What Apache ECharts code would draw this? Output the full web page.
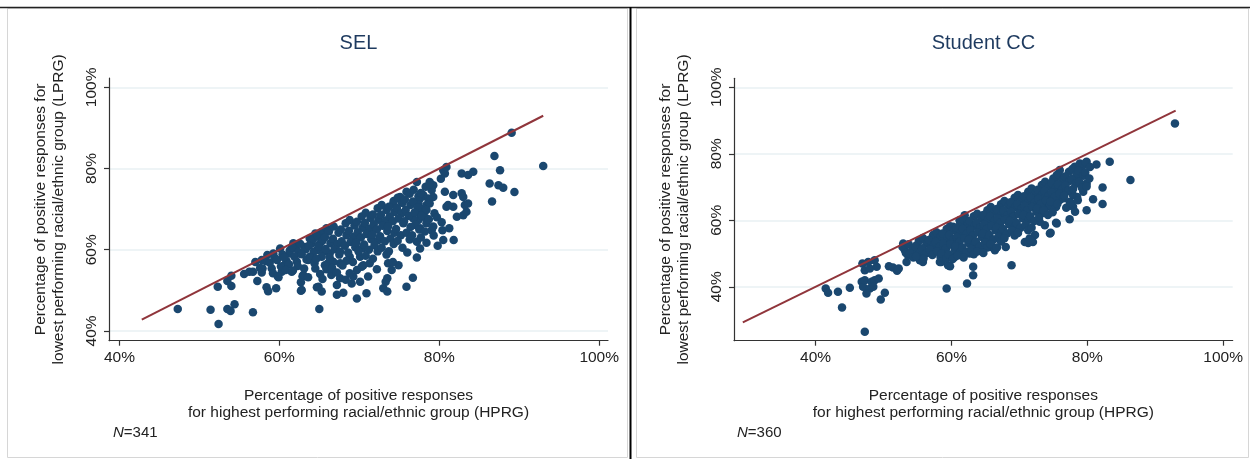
<!DOCTYPE html>
<html><head><meta charset="utf-8">
<script src="https://cdn.jsdelivr.net/npm/echarts@6/dist/echarts.min.js"></script>
<style>html,body{margin:0;padding:0;background:#fff}#c{width:1250px;height:459px}</style>
</head><body><div id="c"></div>
<script>
// ---------- data ----------
const panelTitles = ['SEL', 'Student CC'];
const sampleSizes = ['341', '360'];
const xTicks = [40, 60, 80, 100];
const yTicks = [40, 60, 80, 100];
const selRefLine = [42.8, 93.0];
const sccRefLine = [29.3, 93.0];

// SEL: individually read points [HPRG %, LPRG %]
const selPoints = [
[47.3,45.4],[51.4,45.2],[52.4,41.7],[53.5,45.4],[53.9,44.9],[54.4,46.6],[56.7,44.6],
[52.3,50.9],[53.5,52.3],[54.0,53.6],[54.0,51.1],[55.6,54.0],[56.25,54.6],[56.7,54.6],[57.25,52.3],
[57.0,57.0],[57.8,57.5],[58.5,58.7],[59.25,59.1],[60.1,60.3],
[57.9,55.4],[57.8,54.4],[59.05,55.4],[58.4,50.75],[58.6,49.8],[59.6,50.5],
[59.9,53.2],[60.3,54.6],[60.6,56.2],[60.9,57.2],
[61.75,61.6],[62.05,60.3],[61.3,59.1],[61.55,54.6],[62.7,49.9],[62.9,53.5],
[62.2,57.05],[62.6,59.1],[63.2,60.7],[63.8,62.8],[64.5,64.0],[65.3,64.4],[65.9,65.3],
[64.5,55.4],[65.1,54.0],[64.7,50.75],[65.3,49.7],[65.0,45.4],
[63.8,58.3],[64.7,59.9],[65.5,59.5],[64.05,61.6],[65.1,61.6],[66.3,59.1],[66.1,56.65],
[69.7,48.0],[70.9,49.3],[67.2,48.9],[68.0,49.4],[67.2,51.3],[67.6,53.0],[64.9,50.9],[62.8,50.1],
[73.0,50.5],[73.5,49.7],[75.9,50.9],[76.7,53.1],[77.2,58.1],[77.6,60.3],[78.4,61.7],
[76.0,59.3],[74.9,56.2],[73.6,56.65],[74.05,55.0],[73.5,53.0],[73.3,52.1],
[71.1,53.4],[70.1,52.1],[69.05,51.7],[69.25,53.4],[69.7,55.0],[68.8,54.2],
[71.3,56.65],[70.5,56.2],[70.1,58.3],[68.8,58.3],[67.6,56.65],[66.75,57.05],[65.7,56.2],[63.0,53.8],[63.6,57.5],
[80.5,62.4],[81.8,62.4],[80.4,64.8],[81.25,65.3],
[79.05,64.8],[78.4,66.5],[79.25,65.7],[77.6,65.3],[77.4,67.3],[78.2,68.0],[77.6,69.0],[76.75,67.7],[77.0,66.1],
[82.2,68.1],[83.0,68.5],[83.4,69.35],[83.2,71.0],[83.6,71.4],[82.8,73.9],[83.0,73.0],[81.75,70.6],[80.9,70.6],[81.1,71.0],[81.75,73.5],[80.7,74.3],
[82.8,78.8],[83.6,78.4],[84.25,79.2],[80.7,78.8],[80.5,79.6],[80.9,80.4],
[78.8,76.7],[79.25,75.9],[79.05,74.7],[79.25,73.0],[78.6,72.6],[78.0,73.5],[77.6,72.6],[77.4,71.4],[78.4,71.0],[78.2,70.2],[78.8,71.4],
[77.2,76.7],[75.9,74.3],[75.1,73.0],[75.3,71.8],[74.25,71.4],
[86.9,83.1],[87.6,79.6],[89.05,88.8],[93.0,80.6],[86.3,76.3],[87.4,75.9],[88.0,75.25],[89.4,74.2],[86.6,71.9]
];
// SEL: dense cloud, read region by region
const selCloud = [
[57.6,55.5],[58.3,57.2],
[58.8,56.8],[59.4,58.0],[59.2,54.2],
[59.7,57.5],[60.4,58.8],[60.2,55.9],[59.8,53.5],
[61.3,59.8],[60.6,58.1],[61.2,56.4],[60.8,55.0],
[61.6,60.7],[62.4,59.5],[61.9,58.3],[62.3,56.0],[61.7,54.9],
[62.6,61.5],[63.3,60.1],[62.8,58.9],[63.4,57.6],[63.1,55.4],[62.7,52.0],
[64.2,62.6],[63.7,61.0],[64.3,59.5],[63.9,58.0],[64.4,56.7],[63.6,53.2],
[64.8,63.4],[65.4,62.2],[64.9,60.8],[65.3,58.3],[64.6,57.7],[65.4,52.8],
[66.2,64.5],[65.7,63.1],[66.4,61.6],[65.8,60.2],[66.3,58.0],[65.9,55.2],[66.5,53.8],
[66.8,65.7],[67.4,64.2],[66.7,62.7],[67.3,61.4],[66.9,60.1],[67.5,58.8],[66.6,55.5],[67.2,54.4],
[68.3,66.5],[67.7,65.0],[68.4,63.6],[67.8,62.1],[68.2,61.0],[67.6,59.5],[68.4,57.3],[67.9,56.1],[68.3,52.6],
[68.8,67.3],[69.4,66.0],[68.7,64.7],[69.3,63.2],[68.9,61.9],[69.5,60.6],[68.6,59.3],[69.2,57.0],
[70.3,68.2],[69.7,66.9],[70.4,65.4],[69.8,64.3],[70.2,63.0],[69.6,61.7],[70.4,60.4],[69.9,59.6],[70.3,55.8],
[70.8,69.1],[71.4,67.8],[70.7,66.6],[71.3,65.2],[70.9,63.9],[71.5,62.6],[70.6,61.3],[71.2,60.0],[70.8,58.5],
[72.3,70.2],[71.7,68.7],[72.4,67.4],[71.8,66.3],[72.2,65.0],[71.6,63.7],[72.4,62.4],[71.9,61.1],[72.3,59.6],[71.7,57.8],[72.2,55.2],
[72.8,71.0],[73.4,69.8],[72.7,68.6],[73.3,67.2],[72.9,65.9],[73.5,64.6],[72.6,63.3],[73.2,62.1],[72.8,60.5],[73.4,58.8],
[74.3,72.0],[73.7,70.6],[74.4,69.3],[73.8,68.2],[74.2,67.0],[73.6,65.7],[74.4,64.2],[73.9,62.8],[74.3,61.4],[73.7,59.6],[74.2,57.0],
[74.8,72.8],[75.4,71.5],[74.7,70.3],[75.3,69.0],[74.9,67.7],[75.5,66.5],[74.6,65.1],[75.2,63.6],[74.8,62.2],[75.4,60.5],
[76.3,73.8],[75.7,72.4],[76.4,71.0],[75.8,69.8],[76.2,68.3],[75.6,67.0],[76.4,65.6],[75.9,64.2],[76.3,62.5],
[76.8,74.8],[77.4,73.2],[76.7,71.9],[77.3,70.4],[76.9,69.2],[77.5,65.0],[76.6,63.6],[77.2,62.0],
[78.3,75.5],[77.7,74.0],[78.4,69.8],[77.8,68.4],[78.2,64.5],[77.7,63.0],
[78.8,76.2],[79.4,69.0],[78.7,67.5],[79.3,63.5],
[80.2,77.5],[79.7,68.0],[80.3,66.8],[79.8,61.0]
];

// Student CC: individually read points [HPRG %, LPRG %]
const sccPoints = [
[41.5,39.5],[41.85,38.2],[43.3,38.5],[43.9,33.8],[45.05,39.7],[47.25,26.5],
[46.8,41.5],[47.0,40.0],[47.25,42.0],[48.0,39.5],[47.5,38.0],[48.25,41.5],[48.7,42.0],[49.3,42.5],[48.5,40.0],
[49.6,36.2],[50.2,38.2],
[46.9,47.0],[47.25,45.0],[48.0,45.5],[48.7,48.0],[49.0,46.0],[47.75,47.5],
[50.8,46.2],[51.4,45.8],[52.0,44.8],[52.25,45.5],
[52.9,53.05],[53.15,51.0],[53.4,47.5],[53.6,49.5],[54.4,51.5],[54.9,52.5],[54.6,49.5],[55.35,48.0],[55.8,47.5],[55.1,51.0],
[56.3,53.5],[57.1,54.55],[57.8,55.55],[56.3,50.5],[57.3,50.0],[58.3,47.5],[59.3,39.5],[59.8,46.2],[58.8,54.0],[59.5,57.05],[60.25,58.05],[61.2,60.05],[61.95,61.55],
[62.3,41.0],[60.75,52.0],[61.7,51.0],[60.25,49.0],[60.75,54.05],
[63.2,43.5],[63.2,46.0],[68.85,46.5],[68.0,52.0],
[70.8,53.5],[71.5,54.55],[72.3,55.55],[72.0,53.5],[71.3,53.2],
[65.9,52.0],[64.2,51.55],[62.7,50.05],[61.7,49.5],[60.5,49.0],[59.5,46.5],[58.5,47.5],[59.3,52.0],[60.25,53.05],
[74.5,56.05],[75.5,59.05],[73.75,58.55],[73.0,59.55],
[77.4,60.3],[77.9,64.05],[79.9,63.05],[80.85,66.3],[82.25,64.9],[82.25,69.9],[79.4,68.6],[77.9,67.6],[76.9,68.6],
[79.9,77.6],[81.35,76.8],[83.3,77.6],[86.35,72.1],[92.9,89.1],
[78.15,76.1],[78.9,77.1],[79.15,74.6],[78.4,73.1],[79.65,73.6],[79.9,71.1],[79.4,70.6],
[75.95,75.1],[75.5,73.6],[75.0,72.6],[74.75,70.1],[75.5,69.1],[75.95,66.1],[75.2,64.6],[74.2,64.05],[73.5,63.05],[73.0,62.05],[74.0,67.6],[73.0,66.1],
[75.4,59.25],[74.6,56.25],[71.6,54.05]
];
// Student CC: dense cloud, read region by region
const sccCloud = [
[52.8,52.0],[53.3,50.2],
[53.7,52.8],[54.3,51.4],[53.9,50.0],[54.4,48.8],
[55.2,53.8],[54.7,52.1],[55.4,50.5],[54.8,49.2],
[55.8,54.7],[56.4,53.0],[55.7,51.6],[56.3,50.1],[55.9,48.5],
[57.3,55.6],[56.7,54.1],[57.4,52.6],[56.8,51.2],[57.2,49.6],
[57.8,56.4],[58.4,55.0],[57.7,53.5],[58.3,52.2],[57.9,50.7],[58.4,49.0],
[59.3,57.4],[58.7,56.0],[59.4,54.6],[58.8,53.1],[59.2,51.6],[58.6,50.0],[59.3,48.6],
[59.8,58.2],[60.4,57.0],[59.7,55.6],[60.3,54.3],[59.9,52.8],[60.5,51.2],[59.6,49.8],[60.2,48.4],
[61.3,59.2],[60.7,57.8],[61.4,56.3],[60.8,55.0],[61.2,53.6],[60.6,52.2],[61.4,50.8],[60.9,49.4],
[61.8,60.2],[62.4,58.8],[61.7,57.4],[62.3,56.1],[61.9,54.6],[62.5,53.2],[61.6,51.8],[62.2,50.4],[61.8,48.8],
[63.3,61.2],[62.7,59.8],[63.4,58.4],[62.8,57.0],[63.2,55.5],[62.6,54.2],[63.4,52.8],[62.9,51.4],[63.3,49.8],
[63.8,62.0],[64.4,60.6],[63.7,59.2],[64.3,57.9],[63.9,56.4],[64.5,55.0],[63.6,53.6],[64.2,52.2],[63.8,50.6],
[65.3,63.0],[64.7,61.6],[65.4,60.2],[64.8,58.8],[65.2,57.4],[64.6,56.0],[65.4,54.6],[64.9,53.2],[65.3,51.8],[64.7,50.2],
[65.8,64.0],[66.4,62.6],[65.7,61.2],[66.3,59.8],[65.9,58.3],[66.5,57.0],[65.6,55.6],[66.2,54.2],[65.8,52.8],[66.4,51.0],
[67.3,64.8],[66.7,63.4],[67.4,62.0],[66.8,60.6],[67.2,59.2],[66.6,57.8],[67.4,56.4],[66.9,55.0],[67.3,53.6],[66.7,51.8],
[67.8,65.8],[68.4,64.4],[67.7,63.0],[68.3,61.6],[67.9,60.2],[68.5,58.8],[67.6,57.4],[68.2,56.0],[67.8,54.6],
[69.3,66.8],[68.7,65.4],[69.4,64.0],[68.8,62.6],[69.2,61.2],[68.6,59.8],[69.4,58.4],[68.9,57.0],[69.3,55.4],
[69.8,67.6],[70.4,66.2],[69.7,64.8],[70.3,63.4],[69.9,62.0],[70.5,60.6],[69.6,59.2],[70.2,57.8],[69.8,56.2],
[71.3,68.6],[70.7,67.2],[71.4,65.8],[70.8,64.4],[71.2,63.0],[70.6,61.6],[71.4,60.2],[70.9,58.6],[71.3,57.0],
[71.8,69.6],[72.4,68.2],[71.7,66.8],[72.3,65.4],[71.9,64.0],[72.5,62.6],[71.6,61.2],[72.2,59.8],[71.8,57.8],
[73.3,70.6],[72.7,69.2],[73.4,67.8],[72.8,66.4],[73.2,65.0],[72.6,63.6],[73.4,62.2],[72.9,60.8],
[73.8,71.6],[74.4,70.2],[73.7,68.8],[74.3,67.4],[73.9,66.0],[74.5,64.6],[73.6,63.0],[74.2,61.6],
[75.3,72.6],[74.7,71.2],[75.4,69.8],[74.8,68.4],[75.2,67.0],[74.6,65.6],[75.4,64.0],[74.9,62.4],
[75.8,73.6],[76.4,72.2],[75.7,70.8],[76.3,69.4],[75.9,68.0],[76.5,66.6],[75.6,65.0],
[77.3,74.6],[76.7,73.2],[77.4,71.8],[76.8,70.4],[77.2,69.0],[76.6,67.4],[77.4,65.6],[76.9,63.8],
[77.8,75.4],[78.4,74.0],[77.7,72.4],[78.3,71.0],[77.9,69.4],[78.5,67.0],[77.6,65.2],[78.2,62.6],
[79.3,76.4],[78.7,75.0],[79.4,73.4],[78.8,71.6],[79.2,69.8],[78.6,66.0],
[79.8,77.4],[80.4,76.0],[79.7,74.4],[80.3,72.6],[79.9,70.2]
];

// ---------- build ----------
const selAll = selPoints.concat(selCloud);
const sccAll = sccPoints.concat(sccCloud);

const FONT = '"Liberation Sans", Arial, Helvetica, sans-serif';
const AXIS_COLOR = '#333333';
const DOT = '#1a476f';
const REF = '#90353b';

function xAxis(gridIndex, min, max) {
  return {
    gridIndex, type: 'value', min, max,
    axisLine: { show: true, onZero: false, lineStyle: { color: AXIS_COLOR, width: 1.2 } },
    axisTick: { show: true, length: 5, customValues: xTicks, lineStyle: { color: AXIS_COLOR, width: 1.2 } },
    axisLabel: { customValues: xTicks, formatter: '{value}%', fontFamily: FONT, fontSize: 15.5, color: '#222', margin: 9 },
    splitLine: { show: false },
    name: 'Percentage of positive responses\nfor highest performing racial/ethnic group (HPRG)',
    nameLocation: 'middle', nameGap: 47,
    nameTextStyle: { fontFamily: FONT, fontSize: 15.5, color: '#222', lineHeight: 17 }
  };
}
function yAxis(gridIndex, min, max) {
  return {
    gridIndex, type: 'value', min, max,
    axisLine: { show: true, onZero: false, lineStyle: { color: AXIS_COLOR, width: 1.2 } },
    axisTick: { show: true, length: 5, customValues: yTicks, lineStyle: { color: AXIS_COLOR, width: 1.2 } },
    axisLabel: { customValues: yTicks, formatter: '{value}%', rotate: 90, fontFamily: FONT, fontSize: 15.5, color: '#222', margin: 9 },
    splitLine: { show: true, lineStyle: { color: '#e9f0f3', width: 1.5 } },
    name: 'Percentage of positive responses for\nlowest performing racial/ethnic group (LPRG)',
    nameLocation: 'middle', nameGap: 41,
    nameTextStyle: { fontFamily: FONT, fontSize: 15.5, color: '#222', lineHeight: 18 }
  };
}

const option = {
  animation: false,
  backgroundColor: '#ffffff',
  grid: [
    { left: 109, top: 78, width: 499, height: 262.7 },
    { left: 734, top: 78.3, width: 498.7, height: 262.4 }
  ],
  xAxis: [xAxis(0, 38.7, 101.1), xAxis(1, 28.0, 101.4)],
  yAxis: [yAxis(0, 37.6, 102.3), yAxis(1, 23.8, 102.7)],
  series: [
    { type: 'scatter', xAxisIndex: 0, yAxisIndex: 0, data: selAll, symbolSize: 8.5,
      itemStyle: { color: DOT, opacity: 1 }, z: 2 },
    { type: 'line', xAxisIndex: 0, yAxisIndex: 0, data: selRefLine.map(v => [v, v]), symbol: 'none',
      lineStyle: { color: REF, width: 2 }, z: 3 },
    { type: 'scatter', xAxisIndex: 1, yAxisIndex: 1, data: sccAll, symbolSize: 8.5,
      itemStyle: { color: DOT, opacity: 1 }, z: 2 },
    { type: 'line', xAxisIndex: 1, yAxisIndex: 1, data: sccRefLine.map(v => [v, v]), symbol: 'none',
      lineStyle: { color: REF, width: 2 }, z: 3 }
  ],
  graphic: [
    { type: 'rect', shape: { x: 7.5, y: 8.5, width: 620, height: 449 }, style: { fill: null, stroke: '#d6d6d6', lineWidth: 1 }, silent: true },
    { type: 'rect', shape: { x: 636.5, y: 8.5, width: 612, height: 449 }, style: { fill: null, stroke: '#d6d6d6', lineWidth: 1 }, silent: true },
    { type: 'line', shape: { x1: 0, y1: 7.5, x2: 1250, y2: 7.5 }, style: { stroke: '#222', lineWidth: 1.5 }, silent: true },
    { type: 'line', shape: { x1: 630.5, y1: 7, x2: 630.5, y2: 459 }, style: { stroke: '#000', lineWidth: 2 }, silent: true },
    { type: 'text', x: 358.5, y: 43, style: { text: panelTitles[0], font: '20px ' + FONT, fill: '#1e3a5f', align: 'center', verticalAlign: 'middle' } },
    { type: 'text', x: 983.4, y: 43, style: { text: panelTitles[1], font: '20px ' + FONT, fill: '#1e3a5f', align: 'center', verticalAlign: 'middle' } },
    { type: 'text', x: 113, y: 433, style: { text: '{i|N}=' + sampleSizes[0], fontFamily: FONT, fontSize: 15, fill: '#222', verticalAlign: 'middle',
        rich: { i: { fontStyle: 'italic', fontFamily: FONT, fontSize: 15, fill: '#222' } } } },
    { type: 'text', x: 737, y: 433, style: { text: '{i|N}=' + sampleSizes[1], fontFamily: FONT, fontSize: 15, fill: '#222', verticalAlign: 'middle',
        rich: { i: { fontStyle: 'italic', fontFamily: FONT, fontSize: 15, fill: '#222' } } } }
  ]
};
const chart = echarts.init(document.getElementById('c'), null, { renderer: 'canvas' });
chart.setOption(option);
</script>
</body></html>
